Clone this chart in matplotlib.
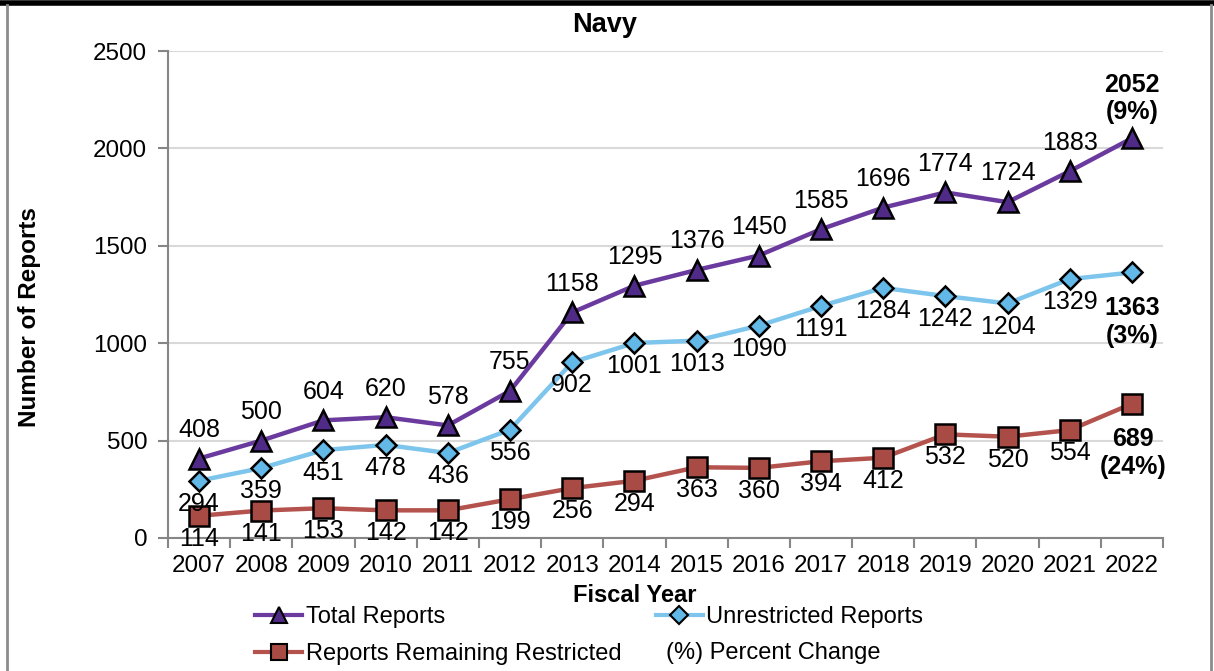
import matplotlib
matplotlib.use("Agg")
import matplotlib.pyplot as plt
from matplotlib.lines import Line2D

plt.rcParams['font.family'] = ['Liberation Sans', 'DejaVu Sans']

years = [2007, 2008, 2009, 2010, 2011, 2012, 2013, 2014, 2015, 2016, 2017, 2018, 2019, 2020, 2021, 2022]
total = [408, 500, 604, 620, 578, 755, 1158, 1295, 1376, 1450, 1585, 1696, 1774, 1724, 1883, 2052]
unrestricted = [294, 359, 451, 478, 436, 556, 902, 1001, 1013, 1090, 1191, 1284, 1242, 1204, 1329, 1363]
restricted = [114, 141, 153, 142, 142, 199, 256, 294, 363, 360, 394, 412, 532, 520, 554, 689]
pct_total = "9%"
pct_unres = "3%"
pct_restr = "24%"

W, H = 1214, 671
fig = plt.figure(figsize=(W / 100, H / 100), dpi=100)
ax = fig.add_axes([168 / W, 1 - 538 / H, (1163 - 168) / W, (538 - 51) / H])

x = list(range(len(years)))

c_tot_line, c_tot_face = '#6B3A9E', '#4F2A86'
c_un_line, c_un_face = '#7DC5EC', '#62B9E8'
c_re_line, c_re_face = '#B4524D', '#A84B45'

ax.plot(x, restricted, color=c_re_line, lw=3.2, marker='s', ms=14,
        mfc=c_re_face, mec='black', mew=1.8, zorder=3)
ax.plot(x, unrestricted, color=c_un_line, lw=3.2, marker='D', ms=10.5,
        mfc=c_un_face, mec='black', mew=1.8, zorder=3)
ax.plot(x, total, color=c_tot_line, lw=3.2, marker='^', ms=15,
        mfc=c_tot_face, mec='black', mew=1.8, zorder=4)

fs = 18
n = len(years)
for i in range(n):
    if i < n - 1:
        ax.annotate(str(total[i]), (x[i], total[i]), xytext=(0, 12), textcoords='offset points',
                    ha='center', va='bottom', fontsize=fs)
        ax.annotate(str(unrestricted[i]), (x[i], unrestricted[i]), xytext=(0, -8), textcoords='offset points',
                    ha='center', va='top', fontsize=fs)
        ax.annotate(str(restricted[i]), (x[i], restricted[i]), xytext=(0, -8), textcoords='offset points',
                    ha='center', va='top', fontsize=fs)

i = n - 1
ax.annotate(f"{total[i]}\n({pct_total})", (x[i], total[i]), xytext=(0, 10), textcoords='offset points',
            ha='center', va='bottom', fontsize=fs, fontweight='bold', linespacing=1.2)
ax.annotate(f"{unrestricted[i]}\n({pct_unres})", (x[i], unrestricted[i]), xytext=(0, -17), textcoords='offset points',
            ha='center', va='top', fontsize=fs, fontweight='bold', linespacing=1.2)
ax.annotate(f"{restricted[i]}\n({pct_restr})", (x[i], restricted[i]), xytext=(1, -17), textcoords='offset points',
            ha='center', va='top', fontsize=fs, fontweight='bold', linespacing=1.2)

ax.set_xlim(-0.5, n - 0.5)
ax.set_ylim(0, 2500)
ax.set_yticks([0, 500, 1000, 1500, 2000, 2500])
ax.set_xticks(x)
ax.set_xticklabels([str(y) for y in years])
ax.set_xticks([k - 0.5 for k in range(n + 1)], minor=True)
ax.tick_params(axis='x', which='major', length=0, pad=12, labelsize=17.4)
ax.tick_params(axis='x', which='minor', length=7, width=1.5, color='#868686', direction='out')
ax.tick_params(axis='y', which='major', length=7, width=1.5, color='#868686', pad=8, labelsize=17.4)

ax.grid(axis='y', color='#D9D9D9', lw=1.5, zorder=0)
ax.set_axisbelow(True)
for s in ['top', 'right']:
    ax.spines[s].set_visible(False)
for s in ['left', 'bottom']:
    ax.spines[s].set_color('#868686')
    ax.spines[s].set_linewidth(1.5)

fig.text(605 / W, 1 - 25 / H, "Navy", ha='center', va='center', fontsize=19.5, fontweight='bold')
fig.text(635 / W, 1 - 595 / H, "Fiscal Year", ha='center', va='center', fontsize=17, fontweight='bold')
fig.text(30 / W, 1 - 317 / H, "Number of Reports", ha='center', va='center', rotation=90,
         fontsize=17.5, fontweight='bold')

handles = [
    Line2D([], [], color=c_tot_line, lw=3, marker='^', ms=12, mfc=c_tot_face, mec='black', mew=1.5),
    Line2D([], [], color=c_re_line, lw=3, marker='s', ms=12, mfc=c_re_face, mec='black', mew=1.5),
    Line2D([], [], color=c_un_line, lw=3, marker='D', ms=9, mfc=c_un_face, mec='black', mew=1.5),
]
labels = ["Total Reports", "Reports Remaining Restricted", "Unrestricted Reports"]
fig.legend(handles, labels, ncol=2, loc='upper left', bbox_to_anchor=(255 / W, 1 - 606 / H),
           frameon=False, fontsize=17, handlelength=2.0, handletextpad=0.15,
           columnspacing=1.45, labelspacing=0.65, borderpad=0, borderaxespad=0)
fig.text(666 / W, 1 - 653 / H, "(%) Percent Change", ha='left', va='center', fontsize=17)

# frame
fig.add_artist(Line2D([0, 1], [1 - 3 / H, 1 - 3 / H], color='black', lw=4, transform=fig.transFigure))
fig.add_artist(Line2D([7 / W, 7 / W], [0, 1 - 5 / H], color='#8C8C8C', lw=2, transform=fig.transFigure))
fig.add_artist(Line2D([1211 / W, 1211 / W], [0, 1 - 5 / H], color='#8C8C8C', lw=2, transform=fig.transFigure))

fig.savefig("out.png", dpi=100)
